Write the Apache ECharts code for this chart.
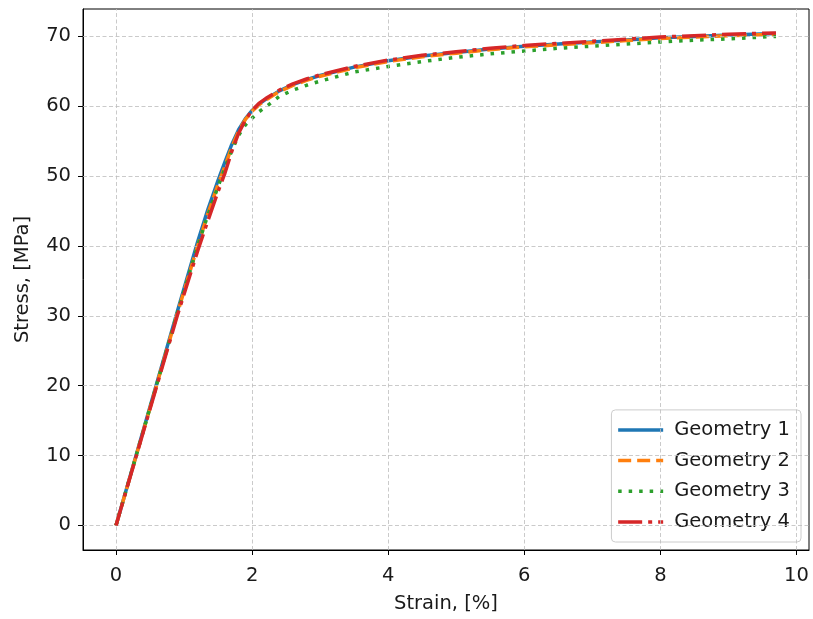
<!DOCTYPE html>
<html>
<head>
<meta charset="utf-8">
<script src="https://cdn.jsdelivr.net/npm/echarts@6/dist/echarts.min.js"></script>
<style>html,body{margin:0;padding:0;background:#fff;}#c{width:813px;height:619px;}</style>
</head>
<body>
<div id="c"></div>
<script>
var strain = [0,0.3,0.6,0.9,1.2,1.35,1.5,1.6,1.7,1.8,1.9,2.0,2.1,2.2,2.4,2.6,2.8,3.0,3.5,4.0,4.5,5.0,5.5,6.0,6.5,7.0,7.5,8.0,8.5,9.0,9.7];
var geometry1 = [0,10.2,20.4,30.6,40.6,45.2,49.4,52.0,54.5,56.6,58.2,59.4,60.3,61.0,62.2,63.1,63.8,64.4,65.6,66.5,67.2,67.7,68.2,68.6,68.9,69.2,69.5,69.8,70.0,70.2,70.4];
var geometry2 = [0,10.1,20.2,30.3,40.0,44.6,48.8,51.4,54.1,56.4,58.1,59.3,60.2,60.9,62.1,63.0,63.7,64.3,65.5,66.4,67.1,67.6,68.1,68.5,68.8,69.1,69.4,69.7,69.9,70.1,70.3];
var geometry3 = [0,10.1,20.2,30.3,40.0,44.4,48.5,51.1,53.6,55.8,57.3,58.3,59.2,59.9,61.4,62.3,63.0,63.6,64.9,65.7,66.4,67.0,67.5,67.9,68.3,68.6,68.9,69.2,69.45,69.65,70.0];
var geometry4 = [0,10.0,20.0,30.0,39.3,43.6,47.8,50.4,53.5,56.1,58.0,59.4,60.4,61.1,62.3,63.2,63.9,64.5,65.7,66.6,67.3,67.8,68.3,68.7,69.0,69.3,69.6,69.9,70.1,70.3,70.5];
var seriesNames = ['Geometry 1','Geometry 2','Geometry 3','Geometry 4'];
var xTicks = [0,2,4,6,8,10];
var yTicks = [0,10,20,30,40,50,60,70];

function pairs(xs, ys){ return xs.map(function(x,i){ return [x, ys[i]]; }); }

var font = 'DejaVu Sans';
var fs = 19.5;
var colors = ['#1f77b4','#ff7f0e','#2ca02c','#d62728'];
var dashes = ['solid',[13,6],[3.5,7],[24,6,4,6]];
var datas = [geometry1, geometry2, geometry3, geometry4];

var series = [{
  type:'line', data:[], z:1, silent:true,
  markLine:{
    silent:true, symbol:['none','none'], label:{show:false}, animation:false,
    lineStyle:{type:[4,2.5], color:'#bdbdbd', width:0.8},
    emphasis:{disabled:true},
    data: xTicks.map(function(v){return {xAxis:v};}).concat(yTicks.map(function(v){return {yAxis:v};}))
  }
}];
seriesNames.forEach(function(n,i){
  series.push({
    name:n, type:'line', data:pairs(strain, datas[i]), symbol:'none', showSymbol:false,
    z:2+i, animation:false,
    lineStyle:{color:colors[i], width:3.5, type:dashes[i], cap:'butt'},
    itemStyle:{color:colors[i]}
  });
});

var chart = echarts.init(document.getElementById('c'));
chart.setOption({
  animation:false,
  grid:{left:83, right:4, top:9, bottom:68, show:true, borderColor:'#000', borderWidth:1, backgroundColor:'transparent'},
  xAxis:{
    type:'value', min:-0.485, max:10.185,
    name:'Strain, [%]', nameLocation:'middle', nameGap:44,
    nameTextStyle:{fontFamily:font, fontSize:fs, color:'#1a1a1a'},
    axisLine:{show:true, onZero:false, lineStyle:{color:'#000', width:1}},
    axisTick:{show:true, length:5, customValues:xTicks, lineStyle:{color:'#000'}},
    axisLabel:{customValues:xTicks, fontFamily:font, fontSize:fs, color:'#1a1a1a', margin:16},
    splitLine:{show:false}
  },
  yAxis:{
    type:'value', min:-3.52, max:73.92,
    name:'Stress, [MPa]', nameLocation:'middle', nameGap:50,
    nameTextStyle:{fontFamily:font, fontSize:fs, color:'#1a1a1a'},
    axisLine:{show:true, onZero:false, lineStyle:{color:'#000', width:1}},
    axisTick:{show:true, length:5, customValues:yTicks, lineStyle:{color:'#000'}},
    axisLabel:{customValues:yTicks, fontFamily:font, fontSize:fs, color:'#1a1a1a', margin:12},
    splitLine:{show:false}
  },
  legend:{
    data:seriesNames, orient:'vertical', right:12, bottom:77,
    itemWidth:45, itemHeight:14, itemGap:10.7,
    padding:[10,11,10,5],
    lineStyle:{width:3.5},
    itemStyle:{opacity:0},
    backgroundColor:'rgba(255,255,255,0.8)', borderColor:'#cccccc', borderWidth:1, borderRadius:4,
    textStyle:{fontFamily:font, fontSize:fs, color:'#1a1a1a', lineHeight:20, padding:[0,0,0,6]}
  },
  series:series
});
</script>
</body>
</html>
